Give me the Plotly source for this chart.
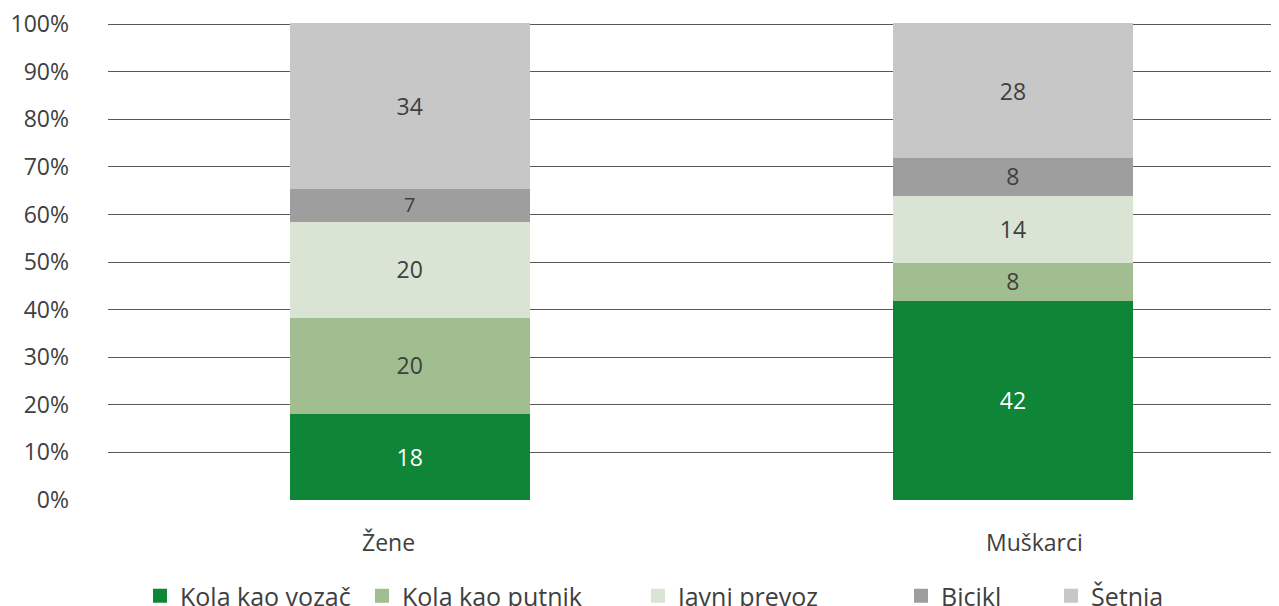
import plotly.graph_objects as go

categories = ["Žene", "Muškarci"]
series_names = ["Kola kao vozač", "Kola kao putnik", "Javni prevoz", "Bicikl", "Šetnja"]
kola_vozac = [18, 42]
kola_putnik = [20, 8]
javni_prevoz = [20, 14]
bicikl = [7, 8]
setnja = [34, 28]
y_ticks = [0, 10, 20, 30, 40, 50, 60, 70, 80, 90, 100]

series_values = [kola_vozac, kola_putnik, javni_prevoz, bicikl, setnja]
colors = ["#0E8537", "#A0BE90", "#D9E4D4", "#9E9E9E", "#C7C7C7"]
text_colors = ["#FFFFFF", "#404040", "#404040", "#404040", "#404040"]

FONT = "Open Sans"
FS = 23
LFS = 25
OFF = 8  # browser body margin
W, H = 1279 - OFF, 606 - OFF
L, T, B = 108 - OFF, 23 - OFF, 106
pw = W - L
ph = H - T - B

def px_x(p):
    return (p - OFF - L) / pw

def px_y(p):
    return (H - B - (p - OFF)) / ph

legend_text_px = [182, 404, 680, 943, 1093]

fig = go.Figure()
for i, (name, vals) in enumerate(zip(series_names, series_values)):
    lg = "legend" if i == 0 else f"legend{i+1}"
    fig.add_trace(go.Bar(
        x=categories, y=vals, name=name,
        marker=dict(color=colors[i], line=dict(width=2, color=colors[i])),
        width=0.395, showlegend=True,
        text=[str(v) for v in vals], textposition="inside",
        insidetextanchor="middle", textangle=0,
        textfont=dict(color=text_colors[i], size=FS, family=FONT),
        legend=lg, hoverinfo="skip",
    ))

layout_legends = {}
for i in range(5):
    lg = "legend" if i == 0 else f"legend{i+1}"
    layout_legends[lg] = dict(
        x=px_x(legend_text_px[i] - 42), y=px_y(596), xanchor="left", yanchor="middle",
        orientation="h", font=dict(size=LFS, family=FONT, color="#404040"),
        bgcolor="rgba(0,0,0,0)", itemclick=False, itemdoubleclick=False,
    )

fig.update_layout(
    width=W, height=H,
    margin=dict(l=L, r=0, t=T, b=B, autoexpand=False),
    barmode="stack", barnorm="percent",
    showlegend=True,
    plot_bgcolor="white", paper_bgcolor="white",
    font=dict(family=FONT, color="#404040", size=FS),
    xaxis=dict(range=[-0.5, 1.441], showticklabels=False, showgrid=False,
               zeroline=False, showline=False, ticks=""),
    yaxis=dict(range=[0, 100.25], tickvals=y_ticks, ticktext=[f"{v}%" for v in y_ticks],
               showgrid=True, gridcolor="#595959", gridwidth=1.3, zeroline=False,
               showline=False, ticks="", ticklabelstandoff=38, automargin=False,
               ticklabeloverflow="allow",
               tickfont=dict(size=FS, family=FONT, color="#404040")),
    **layout_legends,
)

label_px = [388, 1034]
for cat, lx in zip(categories, label_px):
    fig.add_annotation(x=px_x(lx), y=px_y(542), xref="paper", yref="paper",
                       text=cat, showarrow=False, xanchor="center", yanchor="middle",
                       font=dict(size=FS, family=FONT, color="#404040"))

fig.write_html("out.html")
